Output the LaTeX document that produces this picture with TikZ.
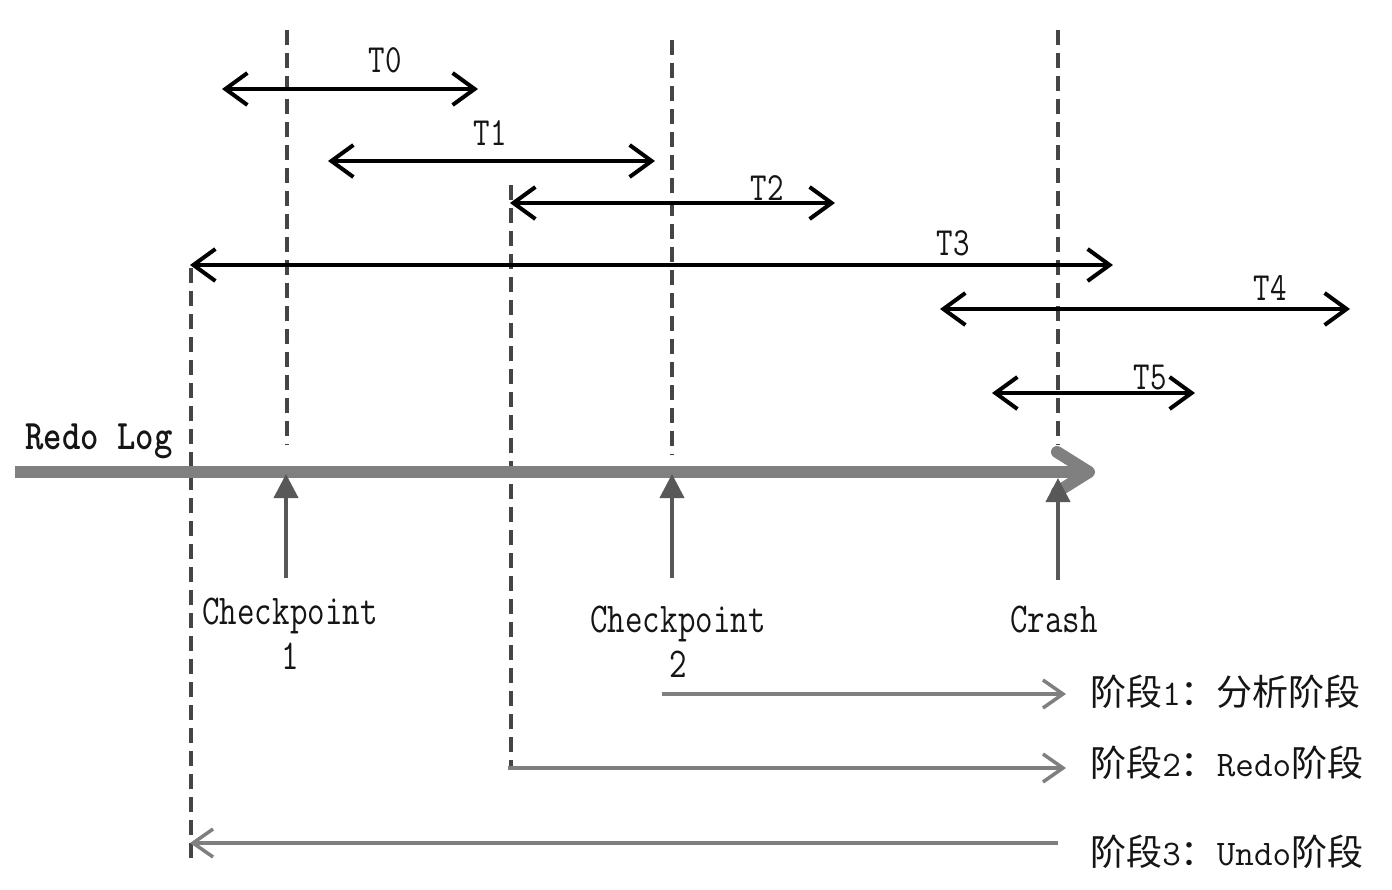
\documentclass[tikz,border=0pt]{standalone}
\usepackage{fontspec}
\newfontfamily\cjk{Noto Sans CJK SC}
\usetikzlibrary{arrows.meta}
\definecolor{dashgray}{HTML}{454545}
\definecolor{loggray}{HTML}{808080}
\definecolor{upgray}{HTML}{585858}
\definecolor{phasegray}{HTML}{7F7F7F}
\definecolor{txt}{HTML}{151515}
\begin{document}
\begin{tikzpicture}[x=0.5pt,y=-0.5pt,
  dline/.style={draw=dashgray, line width=2pt, dash pattern=on 7.5pt off 4pt},
  tarrow/.style={draw=black, line width=2pt,
    {Straight Barb[length=11pt,width=16pt]}-{Straight Barb[length=11pt,width=16pt]}},
  logarrow/.style={draw=loggray, line width=6pt, -{Straight Barb[length=16pt,width=20pt,round]}},
  uparrow/.style={draw=upgray, line width=2pt, -{Triangle[length=12pt,width=12pt]}},
  phasearrow/.style={draw=phasegray, line width=1.75pt, -{Straight Barb[length=10pt,width=14pt]}},
  tlabel/.style={text=txt, font=\ttfamily\fontsize{16}{18}\selectfont, inner sep=0pt, yscale=1.25, transform shape},
  cplabel/.style={text=txt, font=\ttfamily\fontsize{17}{18}\selectfont, align=center, inner sep=0pt, yscale=1.25, transform shape},
  phlabel/.style={text=txt, font=\ttfamily\fontsize{18}{20}\selectfont, anchor=west, inner sep=0pt}
]
\fill[white] (0,0) rectangle (1392,889);
\useasboundingbox (0,0) rectangle (1392,889);

% dashed vertical lines
\coordinate (cp1top) at (287,30);   \coordinate (cp1bot) at (287,445);
\coordinate (cp2top) at (672,40);   \coordinate (cp2bot) at (672,455);
\coordinate (crtop) at (1058,30);   \coordinate (crbot) at (1058,445);
\coordinate (t2top) at (511,185);   \coordinate (t2bot) at (511,768);
\coordinate (t3top) at (191,268);   \coordinate (t3bot) at (191,862);
\draw[dline] (cp1top) -- (cp1bot);
\draw[dline] (cp2top) -- (cp2bot);
\draw[dline] (crtop) -- (crbot);
\draw[dline] (t2top) -- (t2bot);
\draw[dline] (t3top) -- (t3bot);

% transaction arrows
\coordinate (t0a) at (222,89);  \coordinate (t0b) at (478,89);
\coordinate (t1a) at (328,161); \coordinate (t1b) at (655,161);
\coordinate (t2a) at (510,203); \coordinate (t2b) at (835,203);
\coordinate (t3a) at (190,265); \coordinate (t3b) at (1113,265);
\coordinate (t4a) at (940,309); \coordinate (t4b) at (1350,309);
\coordinate (t5a) at (992,393); \coordinate (t5b) at (1195,393);
\draw[tarrow] (t0a) -- (t0b);
\draw[tarrow] (t1a) -- (t1b);
\draw[tarrow] (t2a) -- (t2b);
\draw[tarrow] (t3a) -- (t3b);
\draw[tarrow] (t4a) -- (t4b);
\draw[tarrow] (t5a) -- (t5b);
\node[tlabel] (t0l) at (385,60) {T0};
\node[tlabel] (t1l) at (490,133) {T1};
\node[tlabel] (t2l) at (767,188) {T2};
\node[tlabel] (t3l) at (953,243) {T3};
\node[tlabel] (t4l) at (1270,288) {T4};
\node[tlabel] (t5l) at (1150,378) {T5};

% redo log
\coordinate (logS) at (15,472); \coordinate (logE) at (1095,472);
\draw[logarrow] (logS) -- (logE);
\node[text=txt, font=\ttfamily\bfseries\fontsize{17.5}{20}\selectfont, anchor=west, inner sep=0pt, yscale=1.2, transform shape] (redolog) at (25,441) {Redo Log};

% up arrows
\coordinate (u1b) at (286,578); \coordinate (u1t) at (286,474);
\coordinate (u2b) at (672,578); \coordinate (u2t) at (672,474);
\coordinate (u3b) at (1058,580); \coordinate (u3t) at (1058,478);
\draw[uparrow] (u1b) -- (u1t);
\draw[uparrow] (u2b) -- (u2t);
\draw[uparrow] (u3b) -- (u3t);
\node[cplabel] (cp1) at (290,634) {Checkpoint\\1};
\node[cplabel] (cp2) at (678,642) {Checkpoint\\2};
\node[cplabel] (crash) at (1054,620) {Crash};

% phases
\coordinate (p1a) at (662,694); \coordinate (p1b) at (1066,694);
\coordinate (p2a) at (508,768); \coordinate (p2b) at (1066,768);
\coordinate (p3a) at (1058,843); \coordinate (p3b) at (190,843);
\draw[phasearrow] (p1a) -- (p1b);
\draw[phasearrow] (p2a) -- (p2b);
\draw[phasearrow] (p3a) -- (p3b);
\node[phlabel] (ph1) at (1090,692) {{\cjk 阶段}1{\cjk ：分析阶段}};
\node[phlabel] (ph2) at (1090,763) {{\cjk 阶段}2{\cjk ：}Redo{\cjk 阶段}};
\node[phlabel] (ph3) at (1090,852) {{\cjk 阶段}3{\cjk ：}Undo{\cjk 阶段}};
\end{tikzpicture}
\end{document}
